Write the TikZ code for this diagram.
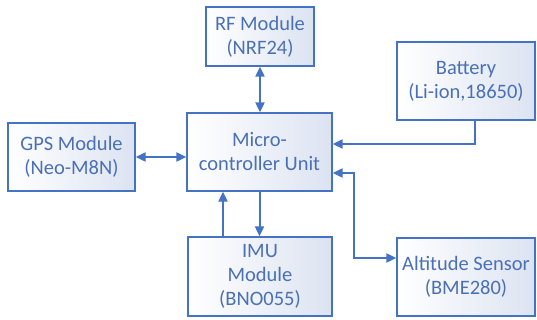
\documentclass[tikz,border=0pt]{standalone}
\usepackage{fontspec}
\setmainfont{Carlito}
\usetikzlibrary{arrows.meta,calc}
\definecolor{edge}{HTML}{4472C4}
\definecolor{txt}{HTML}{4A70B5}
\definecolor{fillb}{HTML}{DCE3F1}
\tikzset{
  blk/.style={draw=edge, line width=1.3pt, left color=white, right color=fillb,
    align=center, text=txt, font=\fontsize{20.5pt}{24pt}\selectfont,
    inner sep=0pt},
  conn/.style={draw=edge, line width=2pt, arrows={-Triangle[length=10pt,width=9pt]}},
  bconn/.style={draw=edge, line width=2pt, arrows={Triangle[length=10pt,width=9pt]-Triangle[length=10pt,width=9pt]}}
}
\begin{document}
\begin{tikzpicture}[x=1pt,y=-1pt]
\useasboundingbox (0,0) rectangle (537,320);
\fill[white] (0,0) rectangle (537,320);
\node[blk, minimum width=108pt, minimum height=59pt] (rf) at (260,36.5) {RF Module\\(NRF24)};
\node[blk, minimum width=127pt, minimum height=68pt] (gps) at (71.5,157) {GPS Module\\(Neo-M8N)};
\node[blk, minimum width=145pt, minimum height=78pt] (mcu) at (259.5,152) {Micro-\\controller Unit};
\node[blk, minimum width=144pt, minimum height=79pt] (imu) at (260,276.5) {IMU\\Module\\(BNO055)};
\node[blk, minimum width=138pt, minimum height=78pt] (bat) at (466,81) {Battery\\(Li-ion,18650)};
\node[blk, minimum width=138pt, minimum height=78pt] (alt) at (466,277) {Altitude Sensor\\(BME280)};
\coordinate (altbend) at (354,258);
\draw[bconn] (rf.south) -- (rf.south |- mcu.north);
\draw[bconn] (gps.east) -- (gps.east -| mcu.west);
\draw[conn] (mcu.south) -- (mcu.south |- imu.north);
\draw[conn] ([xshift=-37pt]imu.north) -- ([xshift=-37pt]imu.north |- mcu.south);
\draw[conn] ([xshift=9pt]bat.south) |- ([yshift=8pt]mcu.east);
\draw[bconn] ([yshift=-21pt]mcu.east) -| (altbend) -- ([yshift=19pt]alt.west);
\end{tikzpicture}
\end{document}
